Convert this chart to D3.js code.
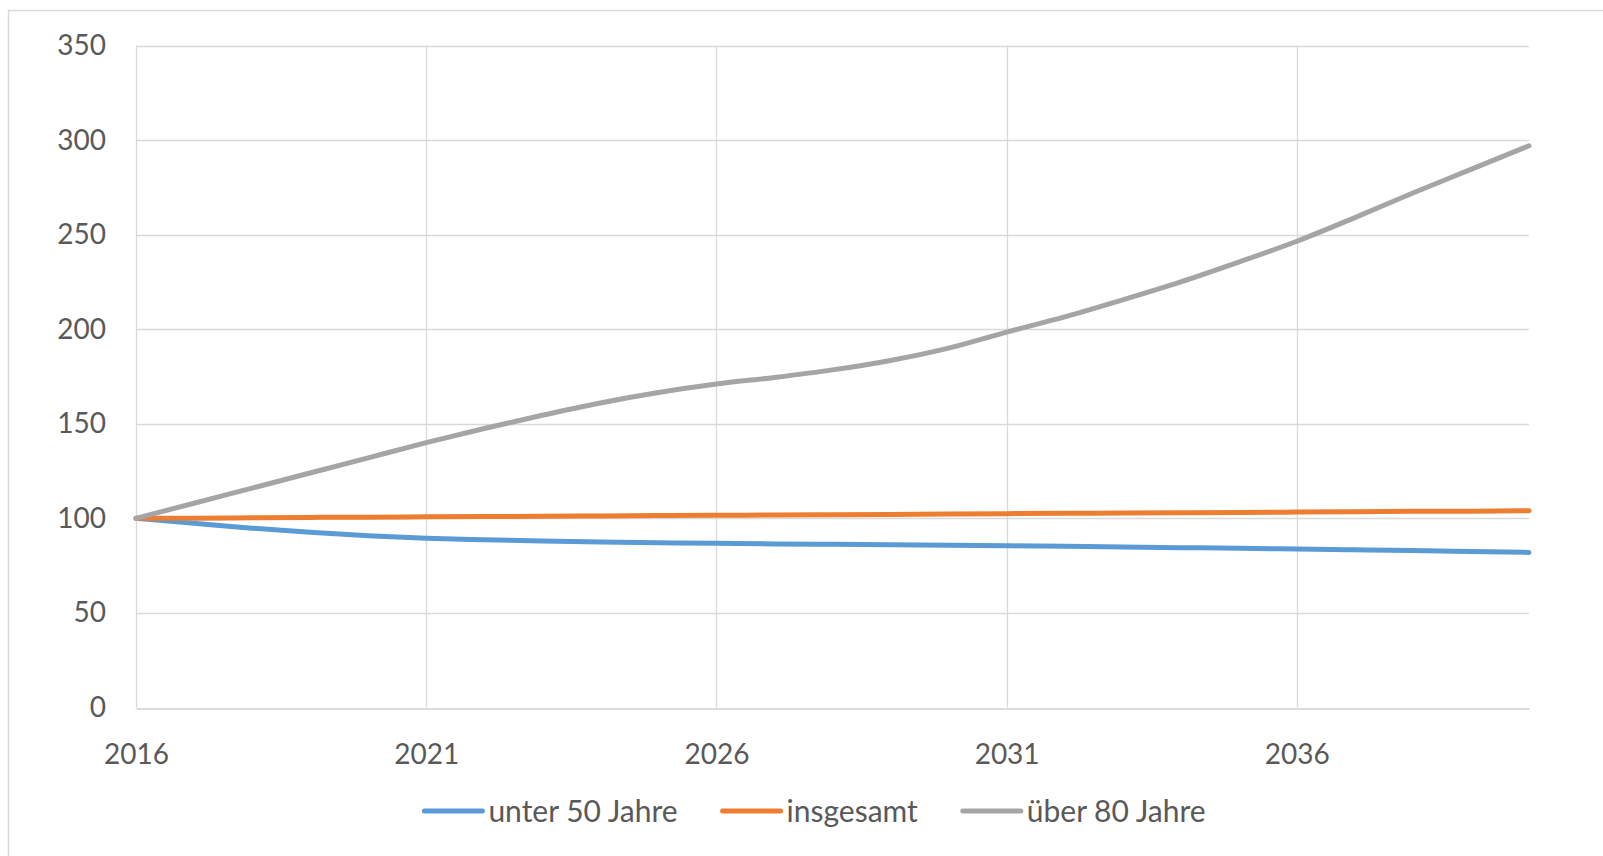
<!DOCTYPE html>
<html>
<head>
<meta charset="utf-8">
<script src="https://cdn.jsdelivr.net/npm/d3@7"></script>
<style>
  body { margin: 0; background: #fff; }
  svg { display: block; }
  text { font-family: Lato, "Open Sans", sans-serif; fill: #595959; }
</style>
</head>
<body>
<div id="chart"></div>
<script>
const years = d3.range(2016, 2041);
const tickYears = [2016, 2021, 2026, 2031, 2036];
const yTicks = [0, 50, 100, 150, 200, 250, 300, 350];

const seriesNames = ['unter 50 Jahre', 'insgesamt', 'über 80 Jahre'];
const seriesColors = ['#5B9BD5', '#ED7D31', '#A5A5A5'];

const under50 = [100, 97.4, 94.8, 92.6, 90.8, 89.5, 88.7, 88.0, 87.5, 87.1, 86.8, 86.5, 86.3,
  86.0, 85.8, 85.5, 85.2, 84.9, 84.5, 84.2, 83.8, 83.4, 83.0, 82.5, 82.0];
const total = [100, 100.1, 100.3, 100.5, 100.6, 100.8, 101.0, 101.1, 101.3, 101.5, 101.6, 101.8, 101.9,
  102.1, 102.3, 102.5, 102.7, 102.8, 103.0, 103.1, 103.3, 103.5, 103.7, 103.8, 104.0];
const over80 = [100, 108, 116, 124, 132, 140, 147.5, 154.5, 161, 166.5, 171, 174.5, 178.5,
  183.5, 190, 198.5, 206.5, 215.5, 225, 235.5, 246.5, 259, 272, 284.5, 297];

const seriesValues = [under50, total, over80];

const width = 1603;
const height = 856;
const margin = { top: 45.5, right: 74, bottom: 148.5, left: 136 };

const svg = d3.select('#chart').append('svg')
  .attr('width', width)
  .attr('height', height);

// outer chart frame (right and bottom edges fall outside the picture)
svg.append('rect')
  .attr('x', 8.5)
  .attr('y', 10.5)
  .attr('width', 1700)
  .attr('height', 1000)
  .style('fill', 'none')
  .style('stroke', '#D9D9D9')
  .style('stroke-width', 1.5);

const xScale = d3.scaleLinear()
  .domain([2016, 2040])
  .range([margin.left, width - margin.right]);

const yScale = d3.scaleLinear()
  .domain([0, 350])
  .range([height - margin.bottom, margin.top]);

// horizontal gridlines
svg.append('g')
  .attr('class', 'grid')
  .selectAll('line')
  .data(yTicks.filter(d => d > 0))
  .enter()
  .append('line')
  .attr('x1', xScale(2016))
  .attr('x2', xScale(2040))
  .attr('y1', d => Math.round(yScale(d)) + 0.5)
  .attr('y2', d => Math.round(yScale(d)) + 0.5)
  .style('stroke', '#D9D9D9')
  .style('stroke-width', 1.3);

// vertical gridlines
svg.append('g')
  .attr('class', 'grid')
  .selectAll('line')
  .data(tickYears)
  .enter()
  .append('line')
  .attr('x1', d => Math.round(xScale(d)) + 0.5)
  .attr('x2', d => Math.round(xScale(d)) + 0.5)
  .attr('y1', yScale(350))
  .attr('y2', yScale(0))
  .style('stroke', '#D9D9D9')
  .style('stroke-width', 1.3);

// x axis
const xAxis = d3.axisBottom(xScale)
  .tickValues(tickYears)
  .tickFormat(d3.format('d'))
  .tickSize(0)
  .tickPadding(36);

const gx = svg.append('g')
  .attr('class', 'x axis')
  .attr('transform', `translate(0,${Math.round(yScale(0)) + 0.5})`)
  .call(xAxis);
gx.select('.domain').style('stroke', '#CFCFCF').style('stroke-width', 1.5);
gx.selectAll('text').style('font-size', '28px').attr('fill', '#595959');

// y axis
const yAxis = d3.axisLeft(yScale)
  .tickValues(yTicks)
  .tickSize(0)
  .tickPadding(30);

const gy = svg.append('g')
  .attr('class', 'y axis')
  .attr('transform', `translate(${margin.left},0)`)
  .call(yAxis);
gy.select('.domain').remove();
gy.selectAll('text').style('font-size', '28px').attr('fill', '#595959');

// lines
const plotLine = d3.line()
  .curve(d3.curveMonotoneX)
  .x((d, i) => xScale(years[i]))
  .y(d => yScale(d));

svg.append('g')
  .attr('class', 'lines')
  .selectAll('path')
  .data(seriesValues)
  .enter()
  .append('path')
  .attr('d', plotLine)
  .style('fill', 'none')
  .style('stroke', (d, i) => seriesColors[i])
  .style('stroke-width', 5)
  .style('stroke-linecap', 'round')
  .style('stroke-linejoin', 'round');

// legend
const legendY = 811;
const legendCenter = 814;
const swatch = 60;
const swatchGap = 6;
const itemGap = 43;

const legend = svg.append('g').attr('class', 'legend');
const items = legend.selectAll('g')
  .data(seriesNames)
  .enter()
  .append('g');

items.append('text')
  .attr('x', swatch + swatchGap)
  .attr('y', legendY)
  .attr('dy', '0.35em')
  .style('font-size', '30px')
  .text(d => d);

const widths = [];
items.each(function () {
  widths.push(this.querySelector('text').getComputedTextLength());
});
const totalWidth = d3.sum(widths, w => swatch + swatchGap + w) + itemGap * (widths.length - 1);
let cursor = legendCenter - totalWidth / 2;
items.each(function (d, i) {
  d3.select(this).attr('transform', `translate(${cursor},0)`);
  cursor += swatch + swatchGap + widths[i] + itemGap;
});

items.append('line')
  .attr('x1', 2)
  .attr('x2', swatch)
  .attr('y1', legendY)
  .attr('y2', legendY)
  .style('stroke', (d, i) => seriesColors[i])
  .style('stroke-width', 5)
  .style('stroke-linecap', 'round');
</script>
</body>
</html>
